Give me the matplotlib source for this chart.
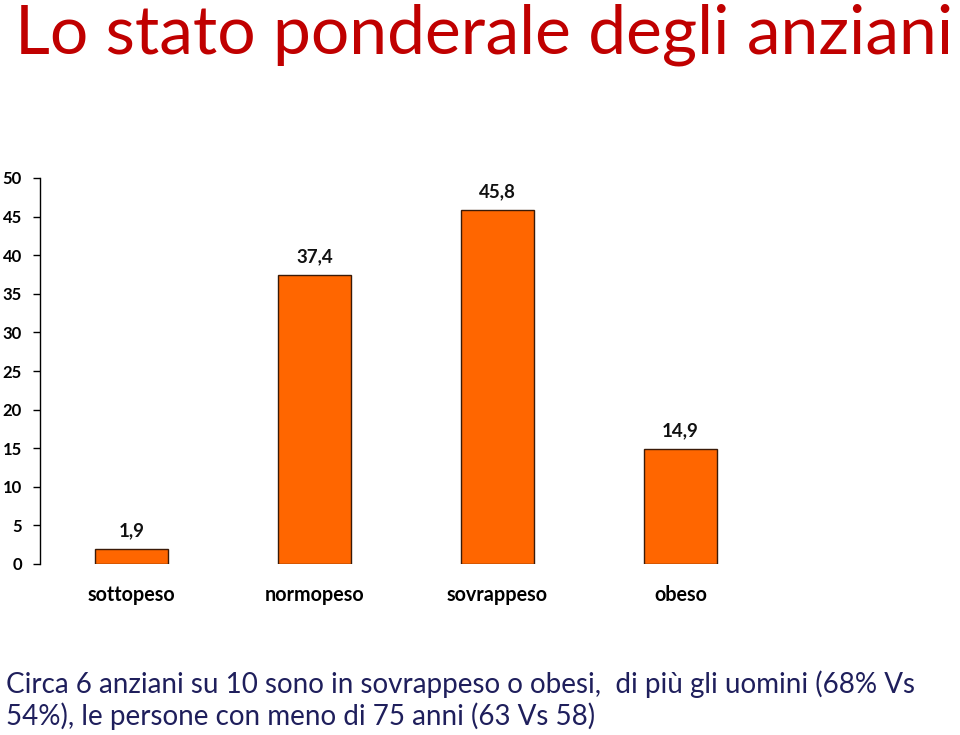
import matplotlib
matplotlib.use("Agg")
import matplotlib.pyplot as plt

categories = ["sottopeso", "normopeso", "sovrappeso", "obeso"]
values = [1.9, 37.4, 45.8, 14.9]
value_labels = ["1,9", "37,4", "45,8", "14,9"]
yticks = [0, 5, 10, 15, 20, 25, 30, 35, 40, 45, 50]

title = "Lo stato ponderale degli anziani"
note = ("Circa 6 anziani su 10 sono in sovrappeso o obesi,  di più gli uomini (68% Vs\n"
        "54%), le persone con meno di 75 anni (63 Vs 58)")

font = ["Lato", "DejaVu Sans"]
plt.rcParams['font.family'] = font

fig = plt.figure(figsize=(9.6, 7.35), dpi=100)
ax = fig.add_axes([40/960, 171/735, 732/960, 386/735])

x = list(range(len(categories)))
ax.bar(x, values, width=0.4, color="#FF6600", edgecolor="#3a1a08", linewidth=1.0)
for xi, v, lab in zip(x, values, value_labels):
    ax.text(xi, v + 1.3, lab, ha="center", va="bottom", fontsize=13.5, fontweight="bold", color="#111111")

ax.set_xlim(-0.5, 3.5)
ax.set_ylim(0, 50)
ax.set_yticks(yticks)
ax.set_yticklabels([str(t) for t in yticks], fontsize=12, fontweight="bold")
ax.set_xticks(x)
ax.set_xticklabels(categories, fontsize=14.2, fontweight="bold")
ax.tick_params(axis="x", length=0, pad=15)
ax.tick_params(axis="y", length=5, width=1, direction="out", pad=8)
for s in ["top", "right", "bottom"]:
    ax.spines[s].set_visible(False)
ax.spines["left"].set_linewidth(1)

fig.text(15/960, 1 - 35/735, title, ha="left", va="center", fontsize=48.8, color="#C00000")
fig.text(6/960, 1 - 700/735, note, ha="left", va="center", fontsize=20, color="#1F1F5C", linespacing=1.2)

fig.savefig("out.png", dpi=100)
